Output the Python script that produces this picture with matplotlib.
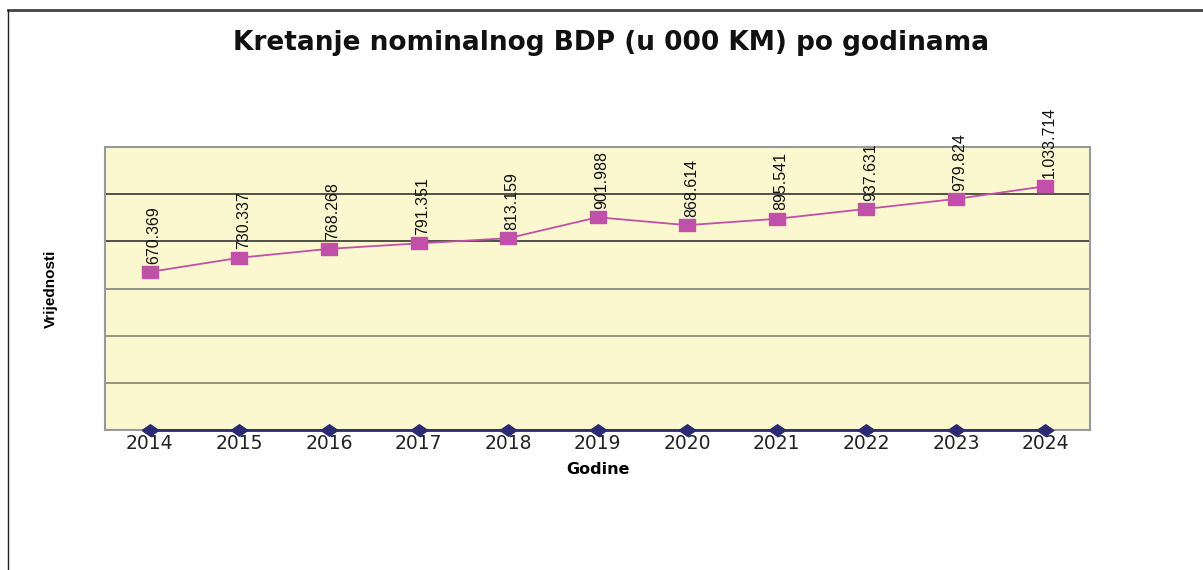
import matplotlib.pyplot as plt
from matplotlib.lines import Line2D

# data (values in 000 KM)
godine = ['2014', '2015', '2016', '2017', '2018', '2019', '2020', '2021', '2022', '2023', '2024']
bdp = [670.369, 730.337, 768.268, 791.351, 813.159, 901.988, 868.614, 895.541, 937.631, 979.824, 1033.714]
bdp_labels = ['670.369', '730.337', '768.268', '791.351', '813.159', '901.988',
              '868.614', '895.541', '937.631', '979.824', '1.033.714']
nula = [0] * len(godine)
grid_levels = [200, 400, 600, 800, 1000]

# the original markers are stretched sideways
wide_square = [(-1.5, -1), (1.5, -1), (1.5, 1), (-1.5, 1), (-1.5, -1)]
wide_diamond = [(-1.45, 0), (0, 1), (1.45, 0), (0, -1), (-1.45, 0)]


def main():
    plt.rcParams['font.family'] = ['Liberation Sans', 'DejaVu Sans']
    fig = plt.figure(figsize=(12.03, 5.70), dpi=100)
    ax = fig.add_axes([0.0873, 0.2456, 0.819, 0.4965])
    ax.set_facecolor('#fbf8d0')

    x = list(range(len(godine)))

    for lvl in grid_levels:
        col = '#222222' if lvl >= 800 else '#7a7a70'
        ax.axhline(lvl, color=col, linewidth=1.1, zorder=1)

    ax.plot(x, bdp, color='#c050a8', linewidth=1.3, marker=wide_square, markersize=12,
            markerfacecolor='#c050a8', markeredgecolor='#c050a8', zorder=3)
    ax.plot(x, nula, color='#2b2a72', linewidth=2, marker=wide_diamond, markersize=12,
            clip_on=False, zorder=4)

    for xi, yi, lab in zip(x, bdp, bdp_labels):
        ax.annotate(lab, (xi, yi), xytext=(3, 6), textcoords='offset points',
                    rotation=90, ha='center', va='bottom', fontsize=11.5,
                    color='#111111', annotation_clip=False)

    ax.set_xlim(-0.5, len(godine) - 0.5)
    ax.set_ylim(0, 1200)
    ax.set_xticks(x)
    ax.set_xticklabels(godine, family='DejaVu Sans', fontsize=13.5, color='#222222')
    ax.set_yticks([])
    ax.tick_params(axis='x', length=0, pad=3)
    for s in ax.spines.values():
        s.set_color('#999999')
        s.set_linewidth(1.5)

    ax.set_xlabel('Godine', family='DejaVu Sans', fontsize=11.5, fontweight='bold', labelpad=6)
    ax.set_ylabel('Vrijednosti', fontsize=11, fontweight='bold', labelpad=34)

    fig.text(0.508, 0.924, 'Kretanje nominalnog BDP (u 000 KM) po godinama',
             ha='center', va='center', family='DejaVu Sans', fontsize=19,
             fontweight='bold', color='#111111')

    # outer frame lines (top and left)
    fig.add_artist(Line2D([0.0066, 1], [0.983, 0.983], color='#444444', linewidth=2))
    fig.add_artist(Line2D([0.0066, 0.0066], [0, 0.983], color='#222222', linewidth=1))

    fig.savefig('out.png', dpi=100)


if __name__ == '__main__':
    main()
